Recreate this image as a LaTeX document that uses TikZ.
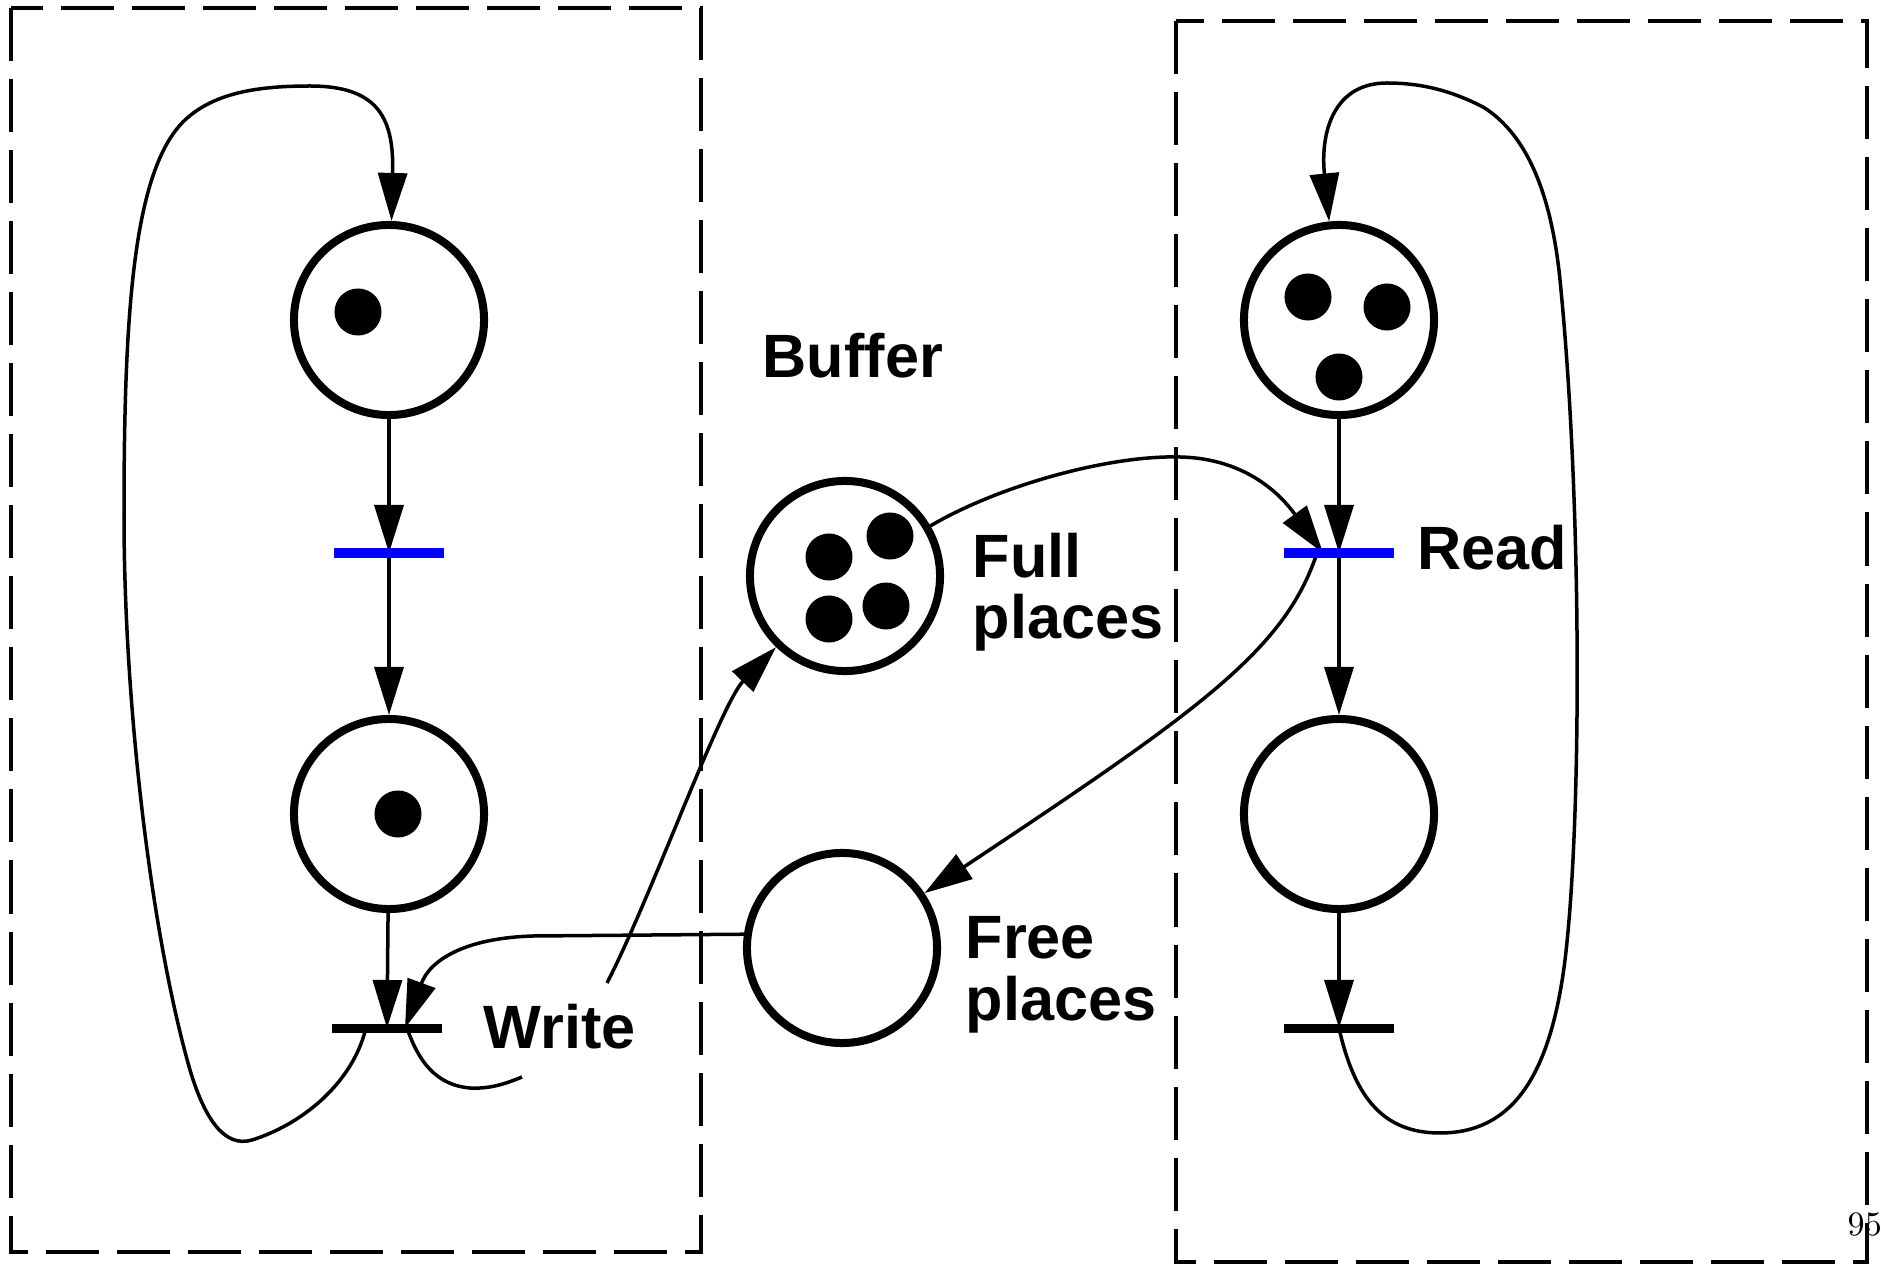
\documentclass[tikz,border=0pt]{standalone}
\usepackage{fontspec}
\usepackage{tikz}
\usetikzlibrary{arrows.meta,backgrounds}
\newfontfamily\helv{Liberation Sans}
\definecolor{fireblue}{RGB}{0,0,255}
\tikzstyle{pl} = [circle,draw,line width=0.08cm,minimum size=1.9cm,inner sep=0,fill=white]
\tikzstyle{tok} = [circle,fill=black,minimum size=0.47cm,inner sep=0]
\tikzstyle{trans} = [rectangle,fill=black,minimum width=1.1cm,minimum height=0.09cm,inner sep=0]
\tikzstyle{flow} = [line width=0.035cm,-{Triangle[length=0.48cm,width=0.29cm]}]
\tikzstyle{plainflow} = [line width=0.035cm]
\tikzstyle{bound} = [line width=0.04cm,dash pattern=on 0.53cm off 0.18cm]
\tikzstyle{lbl} = [font=\helv\bfseries\fontsize{17.4}{17.4}\selectfont,inner sep=0,align=left]

\begin{document}
\begin{tikzpicture}[x=0.01cm,y=-0.01cm]
\useasboundingbox (0,0) rectangle (1881,1264);

% Dashed boxes
\draw[bound] (11,8) rectangle (701,1252);
\draw[bound] (1176,21) rectangle (1867,1262);

% Writer side
\node[pl] (lp1) at (389,320) {};
\node[tok] (lk1) at (358,312) {};
\node[trans,fill=fireblue] (lt1) at (389,553) {};
\node[pl] (lp2) at (389,814) {};
\node[tok] (lk2) at (398,814) {};
\node[trans] (lt2) at (387,1028) {};

% Buffer
\node[pl] (fp) at (845,576) {};
\node[tok] (fk1) at (829,557) {};
\node[tok] (fk2) at (890,536) {};
\node[tok] (fk3) at (829,619) {};
\node[tok] (fk4) at (886,606) {};
\node[pl] (frp) at (842,948) {};

% Reader side
\node[pl] (rp1) at (1339,320) {};
\node[tok] (rk1) at (1308,297) {};
\node[tok] (rk2) at (1387,307) {};
\node[tok] (rk3) at (1339,377) {};
\node[trans,fill=fireblue] (rt1) at (1339,553) {};
\node[pl] (rp2) at (1339,814) {};
\node[trans] (rt2) at (1339,1028) {};

% Labels
\node[lbl,anchor=base west] (buftxt) at (762,378) {Buffer};
\node[lbl,anchor=base west] (fulltxt) at (972,639) {Full\\places};
\node[lbl,anchor=base west] (freetxt) at (965,1020) {Free\\places};
\node[lbl,anchor=base west] (wtxt) at (483,1048) {Write};
\node[lbl,anchor=base west] (rtxt) at (1417,570) {Read};
\node[font=\fontsize{9.7}{11}\selectfont,inner sep=0,anchor=base west] (pagenum) at (1847,1235) {95};

\coordinate (wfree) at (607,983);
\coordinate (wstub) at (522,1077);

\begin{scope}[on background layer]
% Writer arcs
\draw[flow] (lp1) -- (lt1.center);
\draw[flow] (lt1.center) -- (lp2);
\draw[flow] (lp2) -- (lt2.center);
\draw[flow] ([xshift=-0.21cm]lt2.center) .. controls (352,1085) and (300,1125) .. (252,1140)
  .. controls (225,1148) and (205,1120) .. (190,1070)
  .. controls (150,930) and (124,700) .. (124,516)
  .. controls (124,320) and (132,170) .. (185,120)
  .. controls (215,92) and (260,86) .. (310,86)
  .. controls (380,86) and (394,120) .. (lp1);
\draw[plainflow] ([xshift=0.2cm]lt2.center) .. controls (418,1060) and (435,1085) .. (470,1088)
  .. controls (490,1089) and (505,1084) .. (wstub);

% Buffer arcs
\draw[flow] (frp.172) -- (533,936) .. controls (465,938) and (430,960) .. ([xshift=0.18cm]lt2.center);
\draw[flow] (wfree) .. controls (650,900) and (720,705) .. (fp);
\draw[flow] (fp) .. controls (1000,485) and (1110,455) .. (1180,457)
  .. controls (1230,458) and (1270,480) .. ([xshift=-0.16cm]rt1.center);
\draw[flow] ([xshift=-0.22cm]rt1.center) .. controls (1285,650) and (1200,710) .. (frp);

% Reader arcs
\draw[flow] (rp1) -- (rt1.center);
\draw[flow] (rt1.center) -- (rp2);
\draw[flow] (rp2) -- (rt2.center);
\draw[flow] (rt2.center) .. controls (1355,1100) and (1385,1133) .. (1440,1133)
  .. controls (1510,1133) and (1550,1080) .. (1565,960)
  .. controls (1582,820) and (1582,500) .. (1560,280)
  .. controls (1550,180) and (1520,130) .. (1483,107)
  .. controls (1450,90) and (1420,83) .. (1387,83)
  .. controls (1335,83) and (1320,130) .. (rp1);
\end{scope}
\end{tikzpicture}
\end{document}
